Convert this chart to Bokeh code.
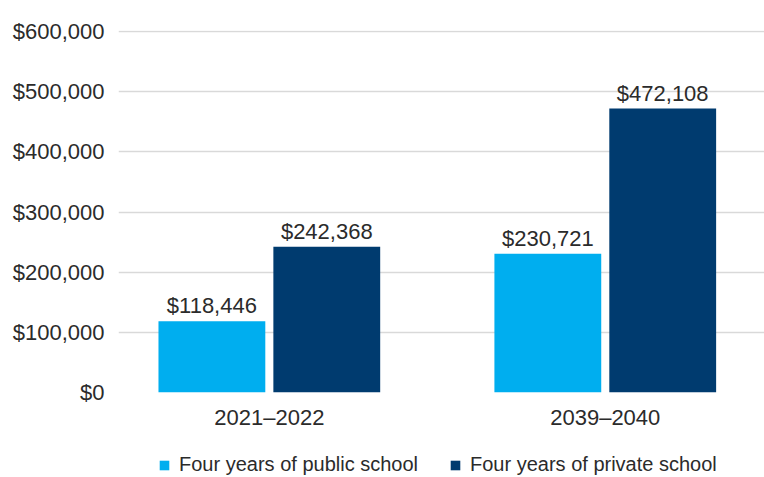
from bokeh.plotting import figure
from bokeh.models import (ColumnDataSource, Range1d, FixedTicker, NumeralTickFormatter,
                          Legend, LegendItem, LabelSet)
from bokeh.layouts import column
from bokeh.core.properties import value
from bokeh.embed import file_html
from bokeh.resources import INLINE

categories = ["2021\u20132022", "2039\u20132040"]
series_names = ["Four years of public school", "Four years of private school"]
public_values = [118446, 230721]
private_values = [242368, 472108]
colors = ["#00AEEF", "#003B6F"]
y_ticks = [0, 100000, 200000, 300000, 400000, 500000, 600000]

FONT = "Liberation Sans"
TEXT = "#2b2b2b"

x_pos = list(range(len(categories)))
offset = 0.171
bar_w = 0.318

src_pub = ColumnDataSource(dict(x=[v - offset for v in x_pos], top=public_values,
                                label=["${:,.0f}".format(v) for v in public_values]))
src_pri = ColumnDataSource(dict(x=[v + offset for v in x_pos], top=private_values,
                                label=["${:,.0f}".format(v) for v in private_values]))

p = figure(width=764, height=440, output_backend="svg", toolbar_location=None,
           x_range=Range1d(-0.449, 1.474), y_range=Range1d(0, 602000),
           min_border_left=118, min_border_top=30, min_border_right=0,
           min_border_bottom=48)
p.outline_line_color = None
p.background_fill_color = "white"

r1 = p.vbar(x="x", top="top", width=bar_w, source=src_pub, color=colors[0], line_color=None)
r2 = p.vbar(x="x", top="top", width=bar_w, source=src_pri, color=colors[1], line_color=None)

for s in (src_pub, src_pri):
    p.add_layout(LabelSet(x="x", y="top", text="label", source=s, text_align="center",
                          text_baseline="bottom", y_offset=3, text_font=value(FONT),
                          text_font_size="22px", text_color=TEXT))

p.xgrid.grid_line_color = None
p.ygrid.grid_line_color = "#d9d9d9"
p.ygrid.grid_line_width = 1.5
p.ygrid.ticker = FixedTicker(ticks=y_ticks)

p.yaxis.ticker = FixedTicker(ticks=y_ticks)
p.yaxis.formatter = NumeralTickFormatter(format="$0,0")
p.yaxis.axis_line_color = None
p.yaxis.major_tick_line_color = None
p.yaxis.minor_tick_line_color = None
p.yaxis.major_label_text_font = FONT
p.yaxis.major_label_text_font_size = "22px"
p.yaxis.major_label_text_color = TEXT
p.yaxis.major_label_standoff = 8

p.xaxis.ticker = FixedTicker(ticks=x_pos)
p.xaxis.major_label_overrides = {i: c for i, c in zip(x_pos, categories)}
p.xaxis.axis_line_color = None
p.xaxis.major_tick_line_color = None
p.xaxis.minor_tick_line_color = None
p.xaxis.major_label_text_font = FONT
p.xaxis.major_label_text_font_size = "22px"
p.xaxis.major_label_text_color = TEXT
p.xaxis.major_label_standoff = 6

# legend strip below the chart
lg = figure(width=764, height=37, output_backend="svg", toolbar_location=None,
            x_range=Range1d(0, 1), y_range=Range1d(0, 1),
            min_border_left=0, min_border_right=0, min_border_top=0, min_border_bottom=0)
lg.outline_line_color = None
lg.axis.visible = False
lg.grid.visible = False
d1 = lg.vbar(x=[5], top=[1], width=0.1, color=colors[0], line_color=None)
d2 = lg.vbar(x=[5], top=[1], width=0.1, color=colors[1], line_color=None)

legend = Legend(items=[LegendItem(label=series_names[0], renderers=[d1]),
                       LegendItem(label=series_names[1], renderers=[d2])],
                orientation="horizontal", location=(40, 1),
                label_text_font=FONT, label_text_font_size="20px", label_text_color=TEXT,
                glyph_width=12, glyph_height=12, label_standoff=9, spacing=31,
                border_line_color=None, background_fill_alpha=0, margin=0, padding=0)
lg.add_layout(legend)

layout = column(p, lg, spacing=0)
open("out.html", "w").write(file_html(layout, INLINE))
